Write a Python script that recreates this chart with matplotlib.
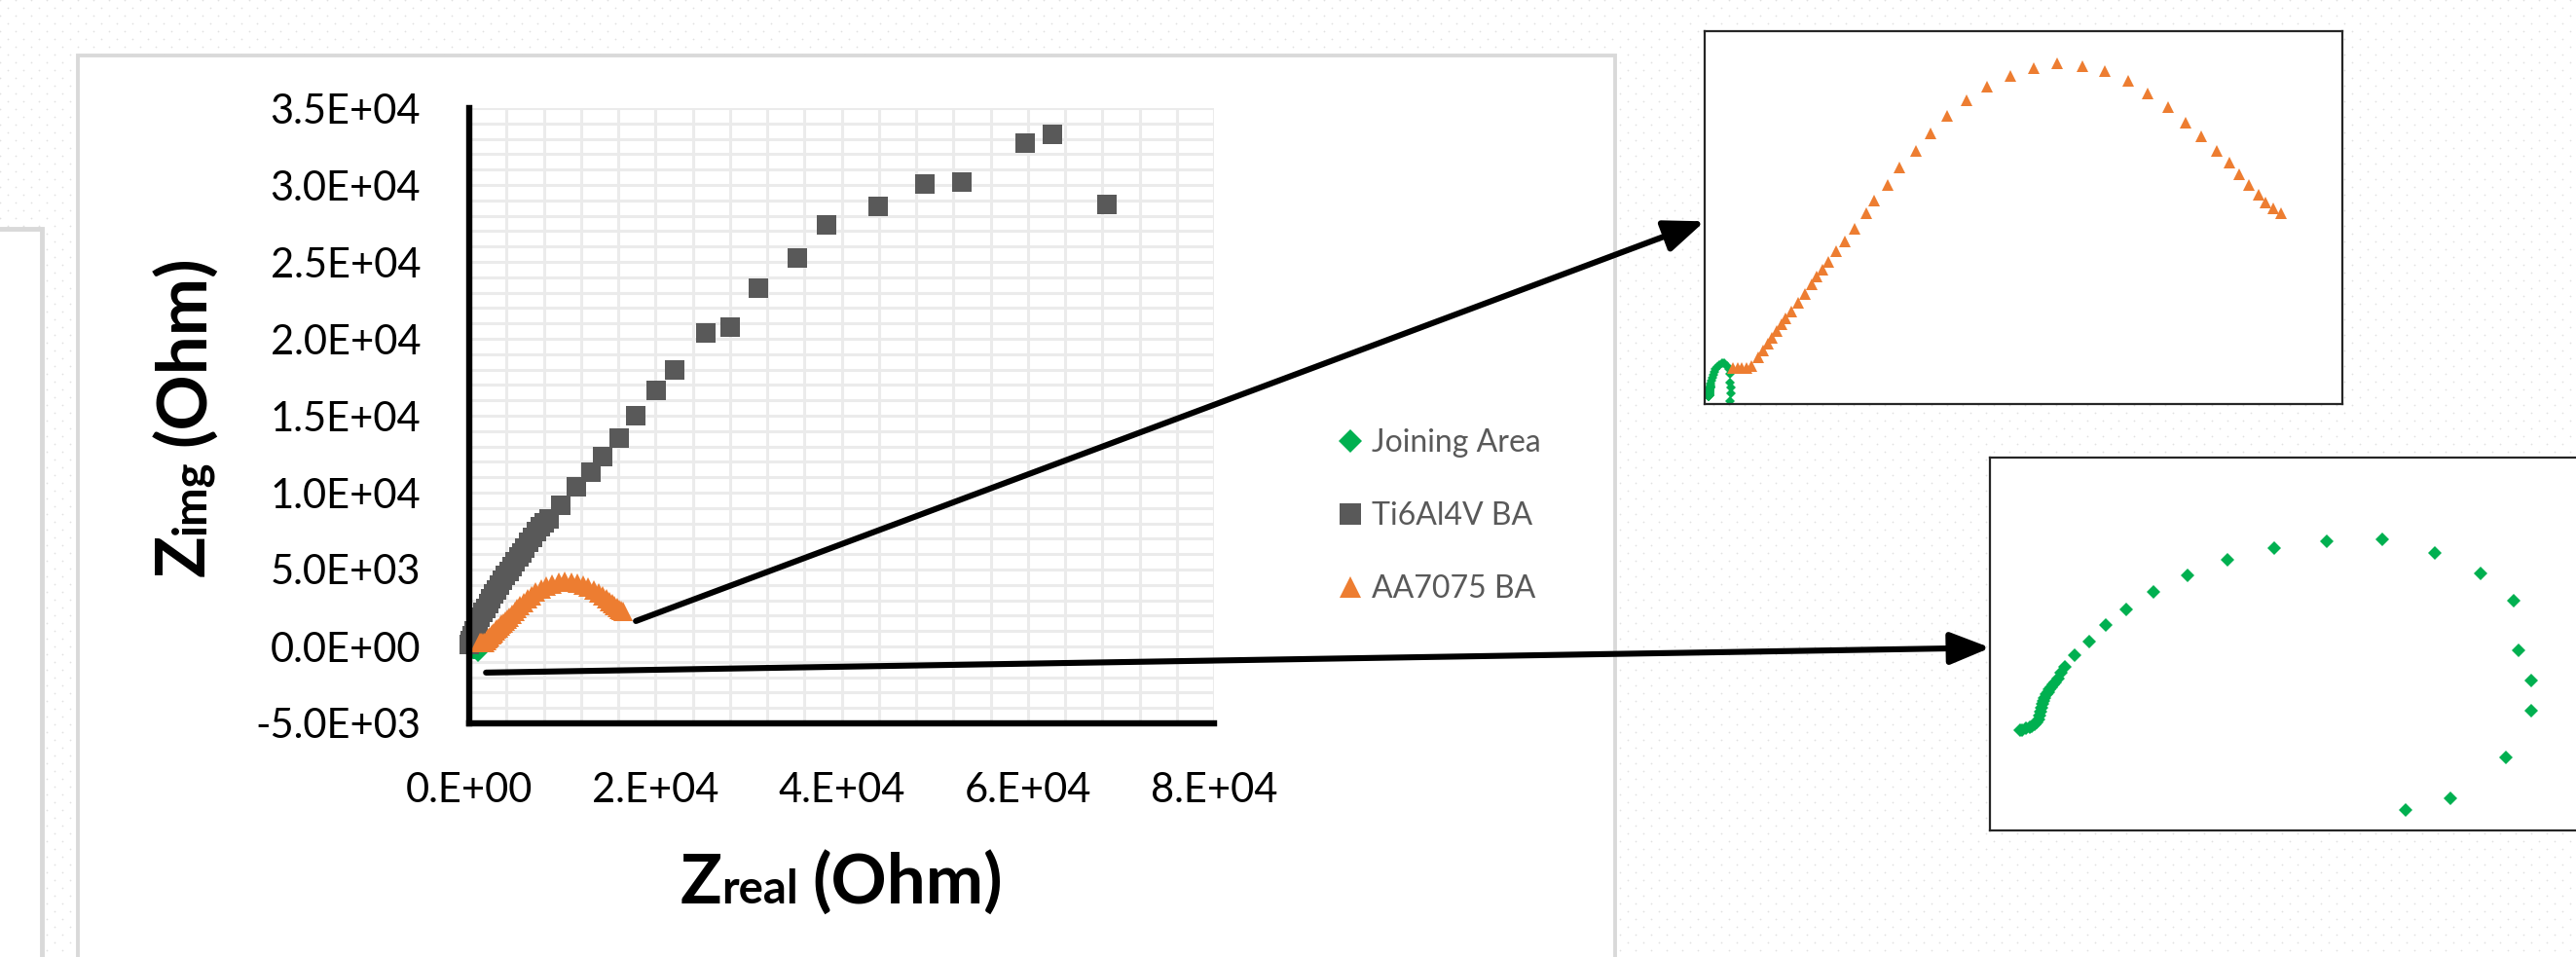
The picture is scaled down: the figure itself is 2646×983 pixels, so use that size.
import numpy as np
import matplotlib
matplotlib.use('Agg')
import matplotlib.pyplot as plt
from matplotlib.patches import Rectangle, ConnectionPatch, ArrowStyle
from matplotlib.ticker import MultipleLocator, FuncFormatter

plt.rcParams['font.family'] = ['Lato', 'DejaVu Sans']

W, H = 2646, 983

# Nyquist data (Ohm)
ja_zreal = [464, 466, 471, 475, 478, 481, 484, 486, 488, 489,
            490, 491, 492, 494, 496, 498, 500, 502, 504, 507,
            510, 514, 519, 531, 548, 569, 594, 627, 669, 719,
            776, 840, 909, 974, 1030, 1070, 1076, 1092, 1092, 1061,
            992, 938]
ja_zimg = [-111, -110, -107, -105, -102, -98, -93, -86, -78, -70,
           -60, -52, -45, -38, -30, -25, -19, -13, -8, -2,
           5, 18, 32, 59, 90, 128, 163, 202, 239, 275,
           301, 317, 320, 289, 244, 183, 70, 1, -68, -172,
           -265, -291]

ti_zreal = [50, 150, 300, 500, 700, 950, 1200, 1450, 1750, 2050,
            2350, 2650, 2950, 3250, 3550, 3900, 4250, 4600, 4950, 5300,
            5650, 6000, 6400, 6800, 7200, 7650, 8100, 8580, 9830, 11490,
            13030, 14320, 16080, 17850, 20030, 22060, 25370, 28030, 31070, 35290,
            38340, 43880, 48950, 52900, 59730, 62600, 68520]
ti_zimg = [100, 400, 700, 1000, 1300, 1600, 1900, 2200, 2500, 2800,
           3100, 3400, 3700, 4000, 4300, 4600, 4900, 5200, 5500, 5800,
           6100, 6400, 6750, 7100, 7450, 7800, 8050, 8300, 9180, 10350,
           11310, 12360, 13560, 15020, 16630, 17950, 20360, 20740, 23290, 25270,
           27420, 28610, 30060, 30210, 32740, 33270, 28730]

aa_zreal = [1155, 1281, 1406, 1532, 1658, 1846, 1996, 2122, 2248, 2373,
            2499, 2625, 2786, 2974, 3163, 3351, 3501, 3665, 3826, 4042,
            4290, 4566, 4880, 5107, 5484, 5809, 6284, 6699, 7150, 7715,
            8267, 8930, 9583, 10247, 10938, 11591, 12241, 12781, 13358, 13857,
            14283, 14712, 15062, 15351, 15613, 15889, 16077, 16304, 16517]
aa_zimg = [254, 254, 254, 262, 283, 401, 487, 572, 656, 741,
           826, 910, 995, 1114, 1228, 1355, 1449, 1546, 1640, 1780,
           1915, 2077, 2280, 2449, 2649, 2874, 3094, 3319, 3548, 3752,
           3934, 4078, 4175, 4239, 4197, 4141, 4014, 3848, 3667, 3467,
           3285, 3094, 2938, 2785, 2649, 2522, 2424, 2344, 2276]

series_names = ['Joining Area', 'Ti6Al4V BA', 'AA7075 BA']
green, grey, orange = '#00B050', '#595959', '#ED7D31'

x_ticks = [0, 20000, 40000, 60000, 80000]
y_ticks = [-5000, 0, 5000, 10000, 15000, 20000, 25000, 30000, 35000]


def fig_box(x0, y0, x1, y1):
    # pixel box (top-left origin) -> figure fraction rect
    return [x0 / W, 1 - y1 / H, (x1 - x0) / W, (y1 - y0) / H]


fig = plt.figure(figsize=(W / 100, H / 100), dpi=100)

# page background: faint dot pattern and the two chart frames
bg = fig.add_axes([0, 0, 1, 1], zorder=-10)
bg.set_xlim(0, W)
bg.set_ylim(H, 0)
bg.axis('off')
gx, gy = np.meshgrid(np.arange(0, W + 16, 16), np.arange(0, H + 8, 8))
gx = gx + (np.arange(gy.shape[0]) % 2)[:, None] * 8
bg.scatter(gx.ravel(), gy.ravel(), s=1.6, c='#e1e1e1', linewidths=0, zorder=0)
bg.add_patch(Rectangle((-50, 235), 93, 800, fc='white', ec='#d9d9d9', lw=3.5, zorder=2))
bg.add_patch(Rectangle((80, 57), 1579, 1000, fc='white', ec='#d9d9d9', lw=2.8, zorder=2))

# main Nyquist plot
ax = fig.add_axes(fig_box(482, 111, 1247, 743))
ax.plot(ja_zreal, ja_zimg, ls='none', marker='D', ms=11, mew=0, color=green,
        label=series_names[0], clip_on=False)
ax.plot(ti_zreal, ti_zimg, ls='none', marker='s', ms=14.4, mew=0, color=grey,
        label=series_names[1], clip_on=False)
ax.plot(aa_zreal, aa_zimg, ls='none', marker='^', ms=14.4, mew=0, color=orange,
        label=series_names[2], clip_on=False)

ax.set_xlim(0, 80000)
ax.set_ylim(-5000, 35000)
ax.set_xticks(x_ticks)
ax.set_yticks(y_ticks)
ax.xaxis.set_minor_locator(MultipleLocator(4000))
ax.yaxis.set_minor_locator(MultipleLocator(1000))
ax.xaxis.set_major_formatter(FuncFormatter(lambda v, p: f'{v:.0E}'.replace('E', '.E')))
ax.yaxis.set_major_formatter(FuncFormatter(lambda v, p: f'{v:.1E}'))
ax.grid(which='both', color='#ebebeb', lw=2.2)
ax.set_axisbelow(True)
ax.tick_params(which='both', length=0, labelsize=30, colors='black', pad=36)
for side in ('top', 'right'):
    ax.spines[side].set_visible(False)
for side in ('left', 'bottom'):
    ax.spines[side].set_color('black')
    ax.spines[side].set_linewidth(4.6)

fig.legend(handles=ax.get_lines(), labels=series_names, loc='center left',
           bbox_to_anchor=(1374 / W, 1 - 530 / H), frameon=False, fontsize=23,
           labelcolor='#595959', handlelength=0.8, handletextpad=0.3,
           borderpad=0, borderaxespad=0, labelspacing=1.4, markerscale=1.1)

# enlarged views
ins1 = fig.add_axes(fig_box(1751, 32, 2406, 415))
ins1.plot(ja_zreal, ja_zimg, ls='none', marker='D', ms=5, mew=0, color=green)
ins1.plot(aa_zreal, aa_zimg, ls='none', marker='^', ms=9, mew=0, color=orange)
ins1.set_xlim(355, 18243)
ins1.set_ylim(-213, 4659)

ins2 = fig.add_axes(fig_box(2044.5, 470, 2699.5, 853))
ins2.plot(ja_zreal, ja_zimg, ls='none', marker='D', ms=7.2, mew=0, color=green)
ins2.set_xlim(427, 1211)
ins2.set_ylim(-338, 506)

for a in (ins1, ins2):
    a.set_xticks([])
    a.set_yticks([])
    for sp in a.spines.values():
        sp.set_color('#262626')
        sp.set_linewidth(1.6)

head = ArrowStyle('-|>', head_length=2.5, head_width=1.0)
for start, target in (((17900, 1650), ins1), ((1800, -1700), ins2)):
    con = ConnectionPatch(xyA=start, coordsA='data', axesA=ax,
                          xyB=(0, 0.49), coordsB='axes fraction', axesB=target,
                          arrowstyle=head, mutation_scale=10, lw=4.4,
                          color='black', shrinkA=0, shrinkB=0, zorder=30)
    fig.add_artist(con)

# axis titles with smaller subscript-like parts on the same baseline
ov = fig.add_axes([0, 0, 1, 1], zorder=20)
ov.set_xlim(0, W)
ov.set_ylim(H, 0)
ov.axis('off')
renderer = fig.canvas.get_renderer()


def title_run(pieces, center, baseline, vertical=False):
    texts, lengths = [], []
    for s, size, gap in pieces:
        t = ov.text(0, 0, s, fontsize=size, fontweight='bold', color='black',
                    rotation=90 if vertical else 0, rotation_mode='anchor',
                    ha='left', va='baseline')
        bb = t.get_window_extent(renderer)
        texts.append(t)
        lengths.append((bb.height if vertical else bb.width) + gap)
    pos = center + sum(lengths) / 2 if vertical else center - sum(lengths) / 2
    for t, n in zip(texts, lengths):
        if vertical:
            t.set_position((baseline, pos))
            pos -= n
        else:
            t.set_position((pos, baseline))
            pos += n


title_run([('Z', 51, 0), ('real', 34, 14), ('(Ohm)', 51, 0)], 864, 928)
title_run([('Z', 51, 0), ('img', 34, 14), ('(Ohm)', 51, 0)], 427, 210, vertical=True)

fig.savefig('out.png', dpi=100)
